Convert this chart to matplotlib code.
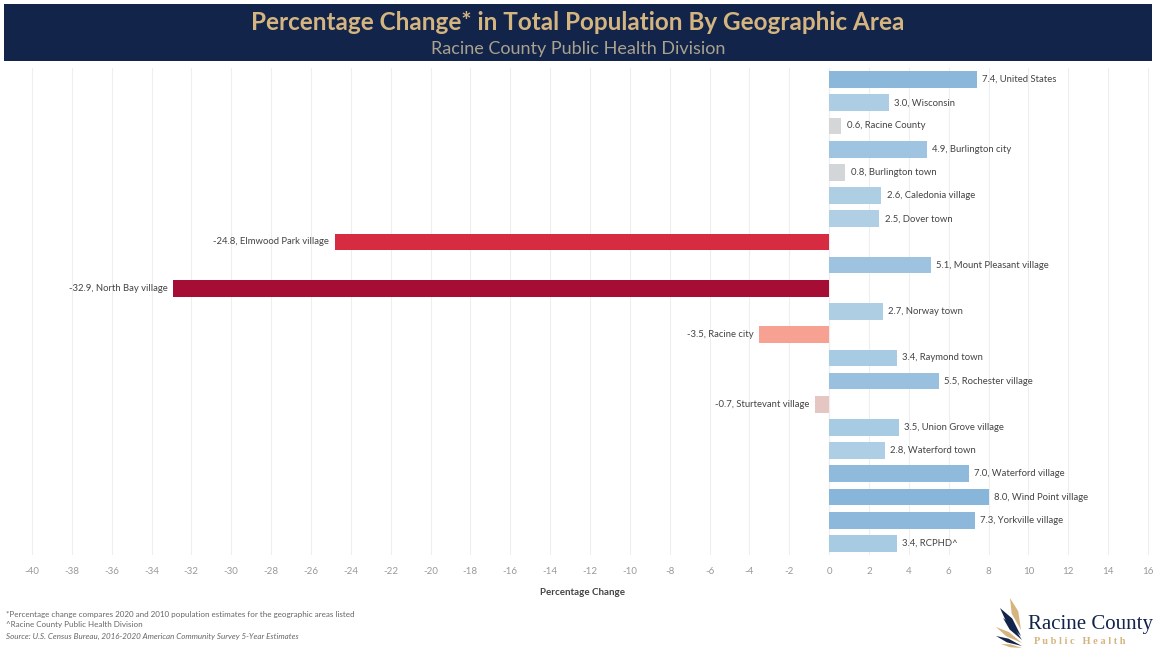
import matplotlib
matplotlib.use("Agg")
import matplotlib.pyplot as plt
from matplotlib.colors import LinearSegmentedColormap
from matplotlib.patches import Rectangle, Polygon

areas = [
    "United States", "Wisconsin", "Racine County", "Burlington city",
    "Burlington town", "Caledonia village", "Dover town", "Elmwood Park village",
    "Mount Pleasant village", "North Bay village", "Norway town", "Racine city",
    "Raymond town", "Rochester village", "Sturtevant village", "Union Grove village",
    "Waterford town", "Waterford village", "Wind Point village", "Yorkville village",
    "RCPHD^",
]
pct_change = [
    7.4, 3.0, 0.6, 4.9, 0.8, 2.6, 2.5, -24.8, 5.1, -32.9, 2.7, -3.5,
    3.4, 5.5, -0.7, 3.5, 2.8, 7.0, 8.0, 7.3, 3.4,
]
x_ticks = list(range(-40, 17, 2))

footnotes = [
    "*Percentage change compares 2020 and 2010 population estimates for the geographic areas listed",
    "^Racine County Public Health Division",
]
source_note = "Source: U.S. Census Bureau, 2016-2020 American Community Survey 5-Year Estimates"

W, H = 1156, 648
NAVY = "#13244a"
GOLD = "#d5b57f"

# diverging red -> grey -> blue, anchored on the data range
vmin, vmax = -33.0, 8.0
def pos(v):
    return (v - vmin) / (vmax - vmin)

cmap = LinearSegmentedColormap.from_list("rb", [
    (pos(-33.0), "#a50d35"),
    (pos(-24.8), "#d62b40"),
    (pos(-3.5), "#f7a090"),
    (pos(-0.7), "#e6c6c2"),
    (pos(0.0), "#d6d6d6"),
    (pos(0.9), "#d4d6d8"),
    (pos(2.5), "#b0cfe4"),
    (pos(3.5), "#a8cbe4"),
    (pos(8.0), "#88b5da"),
])

def px(x, y):
    # pixel position (from top-left) -> figure fraction
    return (x / W, 1 - y / H)

plt.rcParams["font.family"] = ["Lato", "DejaVu Sans"]

fig = plt.figure(figsize=(W / 100, H / 100), dpi=100)
fig.patch.set_facecolor("white")

# header band
fig.patches.append(Rectangle(px(4, 61), 1148 / W, 57 / H,
                             transform=fig.transFigure, facecolor=NAVY,
                             edgecolor="none", zorder=0))
fig.text(0.5, 1 - 22 / H, "Percentage Change* in Total Population By Geographic Area",
         ha="center", va="center", fontsize=17.5, fontweight="bold", color=GOLD)
fig.text(0.5, 1 - 49 / H, "Racine County Public Health Division",
         ha="center", va="center", fontsize=13, color="#a9a28e")

ax = fig.add_axes([12 / W, 1 - 555 / H, 1140 / W, 487 / H])
ypos = list(range(len(areas)))
colors = [cmap(pos(v)) for v in pct_change]
ax.barh(ypos, pct_change, height=0.72, color=colors, zorder=2)

for y, v, name in zip(ypos, pct_change, areas):
    label = f"{v:.1f}, {name}"
    if v >= 0:
        ax.annotate(label, (v, y), xytext=(4, 0), textcoords="offset points",
                    ha="left", va="center", fontsize=6.8, color="#444444")
    else:
        ax.annotate(label, (v, y), xytext=(-4, 0), textcoords="offset points",
                    ha="right", va="center", fontsize=6.8, color="#444444")

ax.set_xlim(-41, 16.2)
ax.set_ylim(len(areas) - 0.5, -0.5)
ax.set_xticks(x_ticks)
ax.set_xticklabels([str(t) for t in x_ticks])
ax.set_yticks([])
ax.tick_params(axis="x", length=0, pad=9, labelsize=7, labelcolor="#999999")
ax.grid(axis="x", color="#eeeeee", linewidth=0.8, zorder=0)
for s in ax.spines.values():
    s.set_visible(False)
ax.axvline(0, color="#e2e2e2", linewidth=0.8, zorder=1)
ax.set_xlabel("Percentage Change", fontsize=7, fontweight="bold",
              color="#444444", labelpad=8)

# notes
fig.text(6 / W, 1 - 614 / H, footnotes[0], fontsize=5.8, color="#666666", va="center")
fig.text(6 / W, 1 - 625 / H, footnotes[1], fontsize=5.8, color="#666666", va="center")
fig.text(6 / W, 1 - 636 / H, source_note, fontsize=5.8, color="#666666",
         va="center", style="italic")

# logo: fan of feathers (tip, base, width in px) and the wordmark
feathers = [
    ((1010, 598), (1021, 630), 7, GOLD),
    ((1000, 608), (1021, 636), 7, NAVY),
    ((1003, 618), (1022, 640), 5, NAVY),
    ((996, 627), (1022, 643), 5, GOLD),
    ((996, 636), (1022, 646), 4, NAVY),
    ((1001, 644), (1022, 648), 3, GOLD),
]
for (tx, ty), (bx, by), w, col in feathers:
    dx, dy = bx - tx, by - ty
    n = (dx * dx + dy * dy) ** 0.5
    ox, oy = -dy / n * w / 2, dx / n * w / 2
    mx, my = tx + dx * 0.45, ty + dy * 0.45
    pts = [px(tx, ty), px(mx + ox, my + oy), px(bx, by), px(mx - ox, my - oy)]
    fig.patches.append(Polygon(pts, closed=True, transform=fig.transFigure,
                               facecolor=col, edgecolor="none"))
fig.text(1028 / W, 1 - 624 / H, "Racine County", family=["Liberation Serif", "DejaVu Serif"],
         fontsize=15, color=NAVY, va="center", ha="left")
fig.text(1034 / W, 1 - 641 / H, "P u b l i c   H e a l t h",
         family=["Liberation Serif", "DejaVu Serif"], fontsize=7.5,
         fontweight="bold", color=GOLD, va="center", ha="left")

fig.savefig("out.png", dpi=100)
